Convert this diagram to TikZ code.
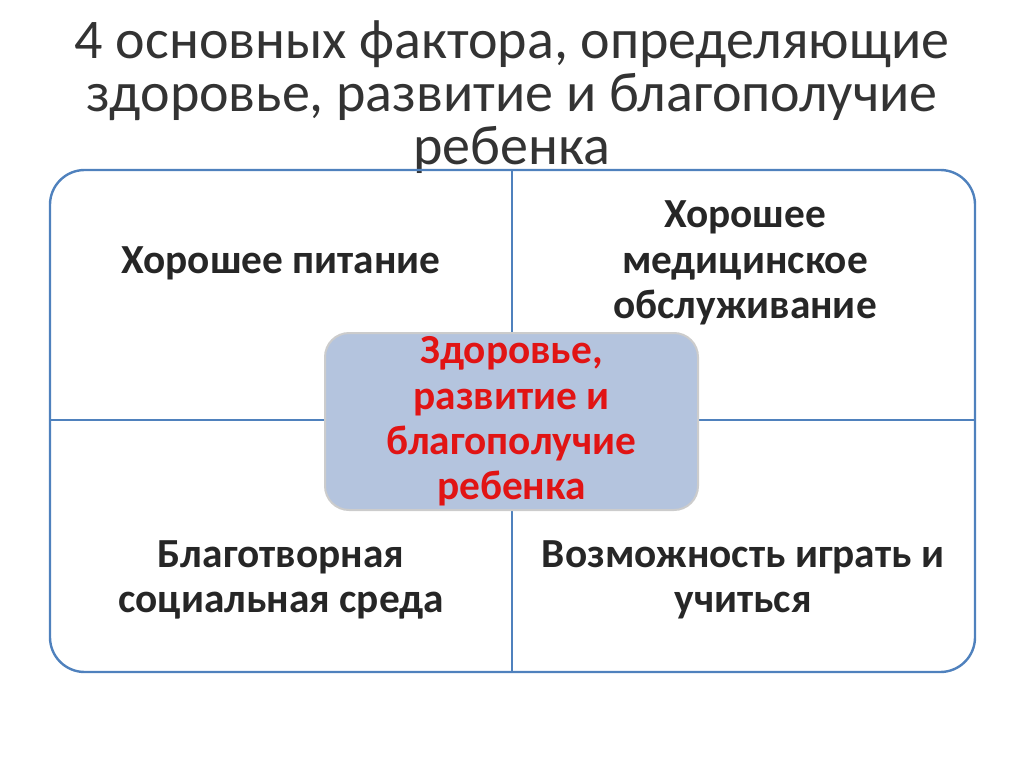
\documentclass[tikz,border=0pt]{standalone}
\usepackage{fontspec}
\setmainfont{Carlito}
\begin{document}
\begin{tikzpicture}[x=0.75pt,y=-0.75pt,
  frame/.style={draw={rgb,255:red,79;green,129;blue,189}, line width=1.8pt},
  lbl/.style={font=\fontsize{31}{34}\selectfont\bfseries, align=center, text=black!85},
  ttl/.style={font=\fontsize{42}{40}\selectfont, align=center, text=black!80}]
\useasboundingbox (0,0) rectangle (1024,767);
\node[ttl] (title) at (512,97) {4 основных фактора, определяющие\\здоровье, развитие и благополучие\\ребенка};
\draw[frame, rounded corners=26pt] (50,170) rectangle (975,672);
\coordinate (top) at (512,170);
\coordinate (bot) at (512,672);
\coordinate (lft) at (50,420);
\coordinate (rgt) at (975,420);
\draw[frame] (top) -- (bot);
\draw[frame] (lft) -- (rgt);
\node[draw=gray!40, line width=1.5pt, fill={rgb,255:red,180;green,196;blue,222}, rounded corners=18pt,
  minimum width=373*0.75pt, minimum height=177*0.75pt] (center) at (511.5,421.5) {};
\node[lbl, text={rgb,255:red,225;green,20;blue,20}] (ctext) at (center) {Здоровье,\\развитие и\\благополучие\\ребенка};
\node[lbl] (a) at (281,263) {Хорошее питание};
\node[lbl] (b) at (745,263) {Хорошее\\медицинское\\обслуживание};
\node[lbl] (c) at (281,580) {Благотворная\\социальная среда};
\node[lbl] (d) at (743,580) {Возможность играть и\\учиться};
\end{tikzpicture}
\end{document}
